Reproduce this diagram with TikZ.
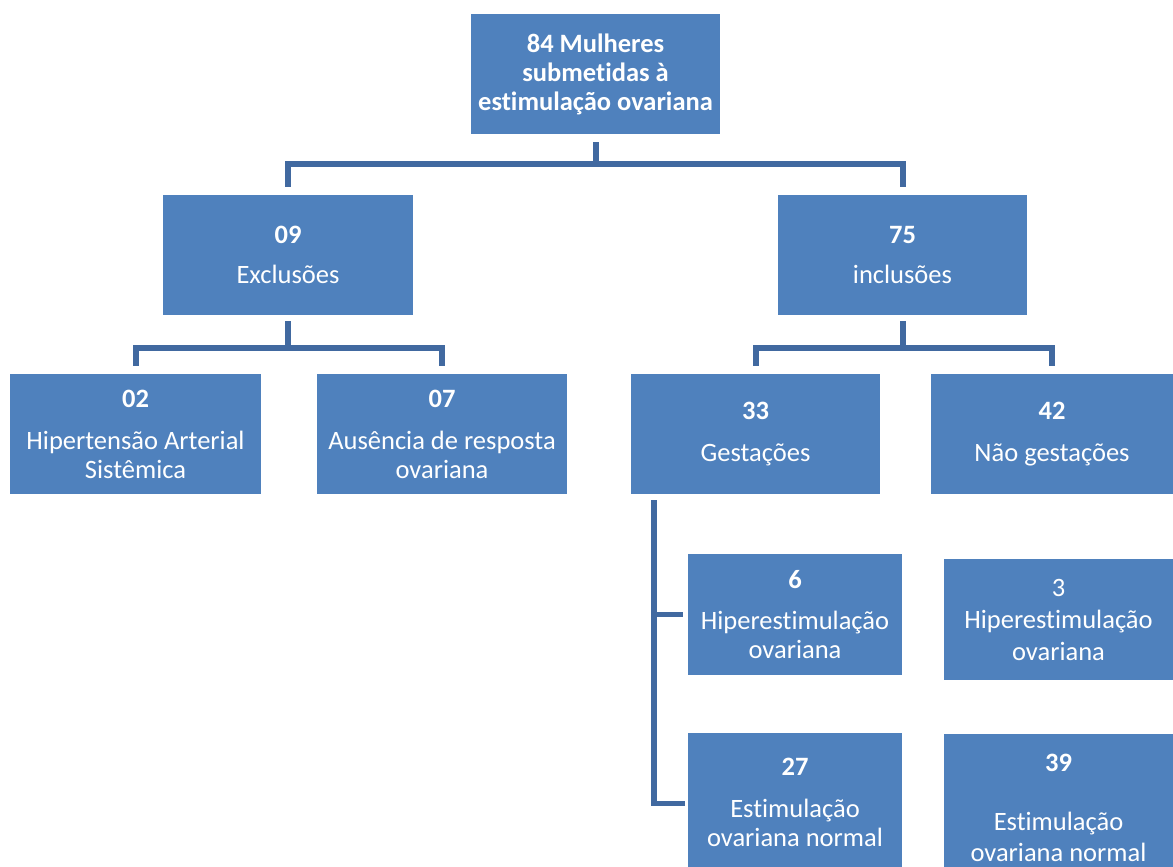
\documentclass[tikz,border=0pt]{standalone}
\usepackage{fontspec}
\setmainfont{Carlito}[Ligatures=NoCommon]
\definecolor{boxblue}{HTML}{4F81BD}
\definecolor{lineblue}{RGB}{65,105,160}
\begin{document}
\begin{tikzpicture}[x=1pt,y=-1pt,
  box/.style={draw=none,fill=boxblue,text=white,align=center,inner sep=0pt,
    font=\fontsize{26.5}{29}\selectfont},
  conn/.style={draw=lineblue,line width=6pt,line join=miter,line cap=butt}]
\useasboundingbox (0,0) rectangle (1173,867);
\clip (0,0) rectangle (1173,867);
\node[box,minimum width=249pt,minimum height=120pt] (top) at (595.5,74) {\textbf{84 Mulheres}\\\textbf{submetidas à}\\\textbf{estimulação ovariana}};
\node[box,minimum width=250pt,minimum height=120pt] (excl) at (288,255) {\textbf{09}\\[11pt]Exclusões};
\node[box,minimum width=249pt,minimum height=120pt] (incl) at (902.5,255) {\textbf{75}\\[11pt]inclusões};
\node[box,minimum width=251pt,minimum height=120pt] (has) at (135.5,434) {\textbf{02}\\[13pt]Hipertensão Arterial\\Sistêmica};
\node[box,minimum width=250pt,minimum height=120pt] (aus) at (442,434) {\textbf{07}\\[13pt]Ausência de resposta\\ovariana};
\node[box,minimum width=249pt,minimum height=120pt] (gest) at (755.5,434) {\textbf{33}\\[13pt]Gestações};
\node[box,minimum width=242pt,minimum height=120pt] (nao) at (1052,434) {\textbf{42}\\[13pt]Não gestações};
\node[box,minimum width=214pt,minimum height=121pt] (hipA) at (795,614.5) {\textbf{6}\\[12pt]Hiperestimulação\\ovariana};
\node[box,minimum width=229pt,minimum height=121pt] (hipB) at (1058.5,619.5) {3\\[3pt]Hiperestimulação\\[3pt]ovariana};
\node[box,minimum width=214pt,minimum height=139pt] (estA) at (795,802.5) {\textbf{27}\\[13pt]Estimulação\\ovariana normal};
\node[box,minimum width=229pt,minimum height=148pt] (estB) at (1058.5,808) {\textbf{39}\\[30pt]Estimulação\\[2pt]ovariana normal};
% level 1
\draw[conn,shorten <=8pt,shorten >=8pt] (top.south) -- ++(0,30) -| (excl.north);
\draw[conn,shorten <=8pt,shorten >=8pt] (top.south) -- ++(0,30) -| (incl.north);
% level 2
\draw[conn,shorten <=6pt,shorten >=8pt] (excl.south) -- ++(0,33) -| (has.north);
\draw[conn,shorten <=6pt,shorten >=8pt] (excl.south) -- ++(0,33) -| (aus.north);
\draw[conn,shorten <=6pt,shorten >=8pt] (incl.south) -- ++(0,33) -| (gest.north);
\draw[conn,shorten <=6pt,shorten >=8pt] (incl.south) -- ++(0,33) -| (nao.north);
% gestations
\coordinate (gs) at ([xshift=23pt]gest.south west);
\draw[conn,line width=5.5pt,shorten <=6pt,shorten >=5pt] (gs) |- (hipA.west);
\draw[conn,line width=5.5pt,shorten <=6pt,shorten >=3pt] (gs) |- ([yshift=-1pt]estA.west);
\end{tikzpicture}
\end{document}
